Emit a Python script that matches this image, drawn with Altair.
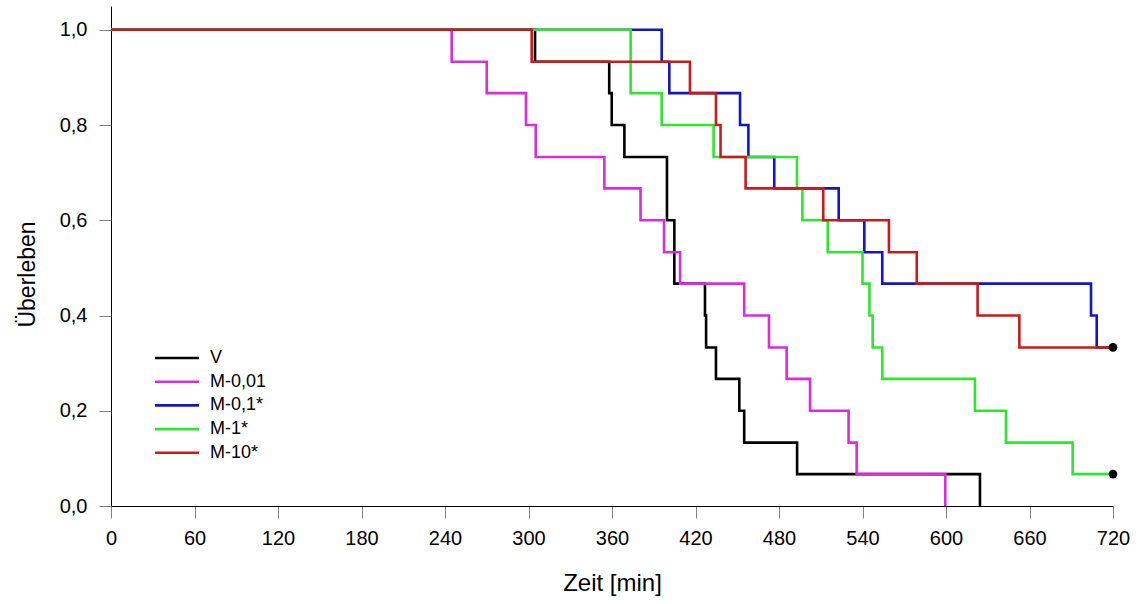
import altair as alt
import pandas as pd

series = ["V", "M-0,01", "M-0,1*", "M-1*", "M-10*"]
colors = ["#000000", "#dd2add", "#1414c8", "#2ee62e", "#cc1a1a"]

v_t = [0, 304.7, 358, 359.8, 368.9, 399.5, 404.8, 426.8, 427.6, 434.7, 451.5, 455, 493, 624.4]
v_s = [1.0, 0.933, 0.867, 0.8, 0.733, 0.6, 0.467, 0.4, 0.333, 0.267, 0.2, 0.133, 0.067, 0.0]

m001_t = [0, 244.8, 270, 298.2, 305.2, 354.5, 380.5, 397.4, 408.9, 455, 472.8, 485.5, 502.3, 530, 535.8, 599.5]
m001_s = [1.0, 0.933, 0.867, 0.8, 0.733, 0.667, 0.6, 0.533, 0.467, 0.4, 0.333, 0.267, 0.2, 0.133, 0.067, 0.0]

m01_t = [0, 395.7, 401.2, 452, 458, 476.6, 522.9, 541.3, 554.2, 704.2, 708.3, 720]
m01_s = [1.0, 0.933, 0.867, 0.8, 0.733, 0.667, 0.6, 0.533, 0.467, 0.4, 0.333, 0.333]

m1_t = [0, 373.4, 395.7, 433, 492.9, 496.8, 515, 540, 545, 547.3, 554.2, 620.8, 643.1, 691, 720]
m1_s = [1.0, 0.867, 0.8, 0.733, 0.667, 0.6, 0.533, 0.467, 0.4, 0.333, 0.267, 0.2, 0.133, 0.067, 0.067]

m10_t = [0, 302.3, 416, 434.7, 438, 456, 511.8, 559, 579, 622.7, 652.7, 720]
m10_s = [1.0, 0.933, 0.867, 0.8, 0.733, 0.667, 0.6, 0.533, 0.467, 0.4, 0.333, 0.333]

cens_t = [720, 720]
cens_s = [0.333, 0.067]

x_ticks = list(range(0, 721, 60))
y_ticks = [0.0, 0.2, 0.4, 0.6, 0.8, 1.0]

rows = []
for name, ts, ss in zip(series, [v_t, m001_t, m01_t, m1_t, m10_t], [v_s, m001_s, m01_s, m1_s, m10_s]):
    for i, (t, s) in enumerate(zip(ts, ss)):
        rows.append({"gruppe": name, "t": t, "s": s, "i": i})
df = pd.DataFrame(rows)
cens = pd.DataFrame({"t": cens_t, "s": cens_s})

FONT = "Liberation Sans"

x_scale = alt.Scale(domain=[0, 720], nice=False, zero=False)
y_scale = alt.Scale(domain=[0, 1.05], nice=False, zero=False)

x_axis = alt.Axis(values=x_ticks, title="Zeit [min]", grid=False, tickSize=12,
                  tickColor="#808080", domainColor="#000000", labelFontSize=20,
                  labelPadding=10, labelFont=FONT, labelColor="#000000",
                  labelFlush=False, labelOverlap=False,
                  titleFont=FONT, titleFontSize=24, titleFontWeight="normal",
                  titleColor="#000000", titleY=65, titleBaseline="top")
y_axis = alt.Axis(values=y_ticks, title="Überleben", grid=False, tickSize=12,
                  tickColor="#808080", domainColor="#000000", labelFontSize=20,
                  labelPadding=12, labelFont=FONT, labelColor="#000000",
                  labelFlush=False, labelOverlap=False,
                  labelExpr="replace(format(datum.value, '.1f'), '.', ',')",
                  titleFont=FONT, titleFontSize=23, titleFontWeight="normal",
                  titleColor="#000000", titleX=-84, titleY=268, titleBaseline="middle",
                  titleAlign="center")

lines = alt.Chart(df).mark_line(interpolate="step-after", strokeWidth=2.6).encode(
    x=alt.X("t:Q", scale=x_scale, axis=x_axis),
    y=alt.Y("s:Q", scale=y_scale, axis=y_axis),
    color=alt.Color("gruppe:N", sort=series,
                    scale=alt.Scale(domain=series, range=colors),
                    legend=alt.Legend(title=None, orient="none", legendX=57, legendY=343,
                                      symbolType="M-4.4,0H4.4", symbolSize=100,
                                      symbolStrokeWidth=2.6, labelFontSize=18,
                                      labelFont=FONT, labelColor="#000000",
                                      labelOffset=24, rowPadding=5.7, padding=0,
                                      symbolOffset=0)),
    order=alt.Order("i:Q"),
)

dots = alt.Chart(cens).mark_point(filled=True, size=75, color="#000000", opacity=1).encode(
    x=alt.X("t:Q", scale=x_scale),
    y=alt.Y("s:Q", scale=y_scale),
)

chart = alt.layer(lines, dots).properties(
    width=1002, height=500,
    autosize=alt.AutoSizeParams(type="none"),
    padding={"left": 111, "top": 6, "right": 28, "bottom": 98},
    background="#ffffff",
).configure_view(stroke=None)

chart.save("out.html", embed_options={"renderer": "svg", "actions": False})
